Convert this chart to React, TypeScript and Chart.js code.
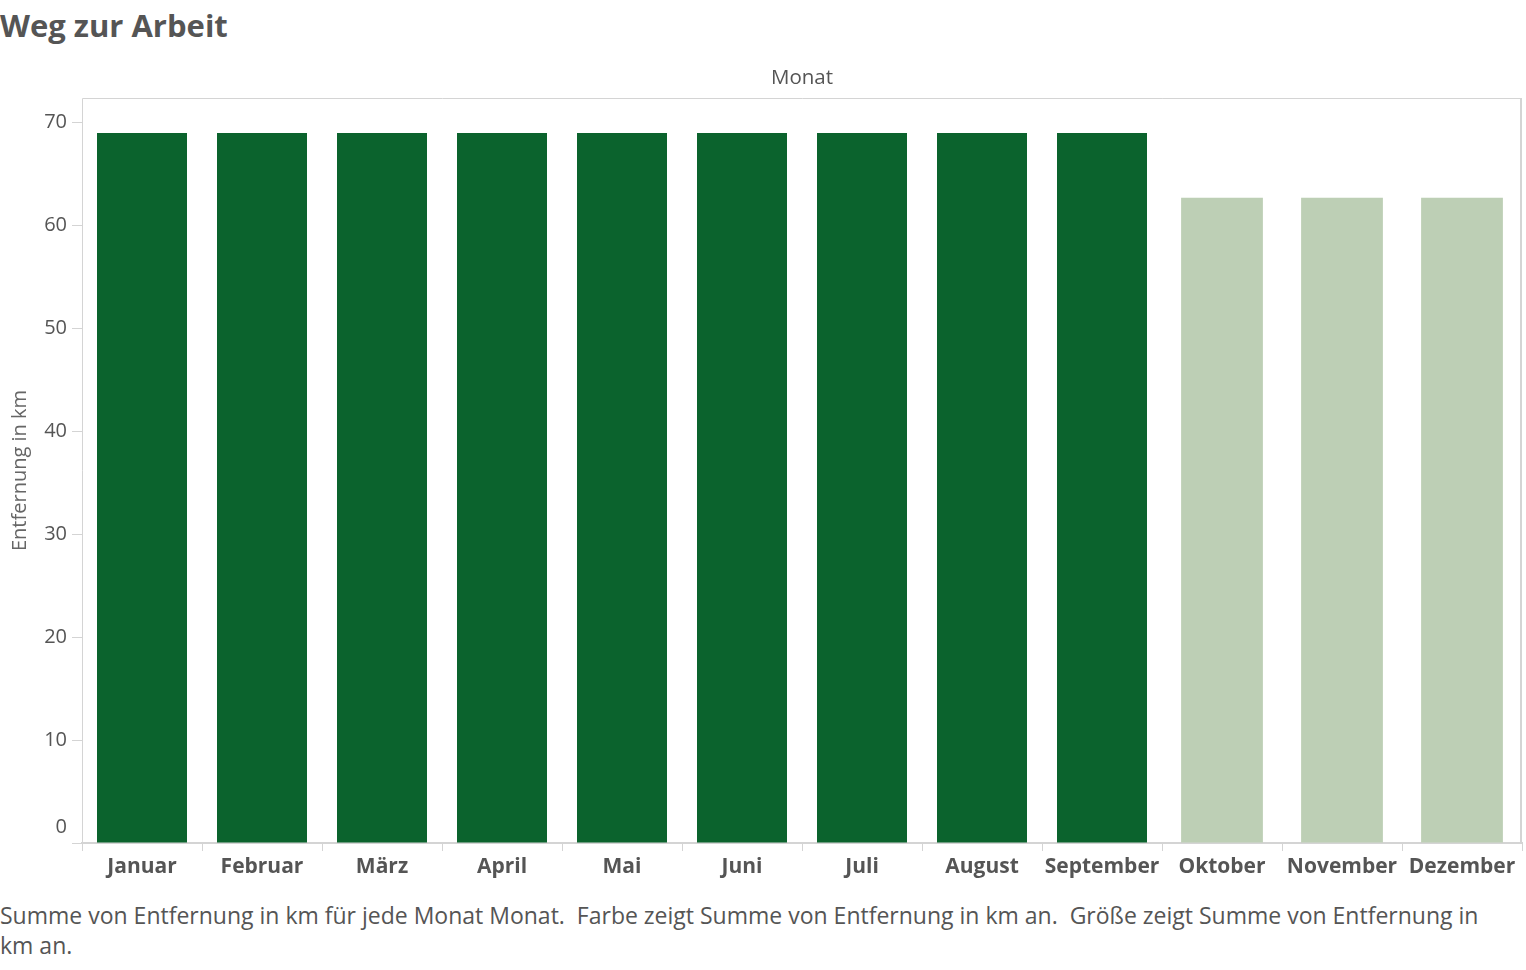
import React, { useEffect, useRef } from "react";
import { Chart, registerables } from "chart.js";

Chart.register(...registerables);

// months on the x axis
const months = [
  "Januar",
  "Februar",
  "März",
  "April",
  "Mai",
  "Juni",
  "Juli",
  "August",
  "September",
  "Oktober",
  "November",
  "Dezember",
];

// Summe von Entfernung in km per month
const distanceKm = [69, 69, 69, 69, 69, 69, 69, 69, 69, 62.7, 62.7, 62.7];

const yTicks = [0, 10, 20, 30, 40, 50, 60, 70];
const yMax = 72.4;

const darkGreen = "#0b632d";
const lightGreen = "#bdcfb5";
const textColor = "#555555";
const lineColor = "#d4d4d4";
const fontFamily = "'Open Sans', 'Noto Sans', sans-serif";

// bar width also encodes the value (Größe)
const maxValue = Math.max(...distanceKm);
const fullBar = 0.75;
const highValues = distanceKm.map((v) => (v >= 65 ? v : null));
const lowValues = distanceKm.map((v) => (v < 65 ? v : null));
const lowValue = Math.min(...distanceKm);

// draws the plot frame and the lifted "0" label like the original
const framePlugin = {
  id: "frame",
  beforeDatasetsDraw(chart: Chart) {
    const { ctx, chartArea } = chart;
    ctx.save();
    ctx.strokeStyle = lineColor;
    ctx.lineWidth = 1;
    ctx.beginPath();
    ctx.moveTo(chartArea.left + 0.5, chartArea.bottom);
    ctx.lineTo(chartArea.left + 0.5, chartArea.top + 0.5);
    ctx.lineTo(chartArea.right, chartArea.top + 0.5);
    ctx.stroke();
    ctx.lineWidth = 2;
    ctx.beginPath();
    ctx.moveTo(chartArea.right - 1, chartArea.top);
    ctx.lineTo(chartArea.right - 1, chartArea.bottom);
    ctx.stroke();
    ctx.restore();
  },
  afterDraw(chart: Chart) {
    const { ctx } = chart;
    const y = chart.scales.y;
    ctx.save();
    ctx.font = `20px ${fontFamily}`;
    ctx.fillStyle = textColor;
    ctx.textAlign = "right";
    ctx.textBaseline = "middle";
    ctx.fillText("0", y.right - 15, y.getPixelForValue(0) - 16);
    ctx.restore();
  },
};

const BarChart = () => {
  const canvasRef = useRef<HTMLCanvasElement | null>(null);

  useEffect(() => {
    if (!canvasRef.current) return;
    const chart = new Chart(canvasRef.current, {
      type: "bar",
      data: {
        labels: months,
        datasets: [
          {
            label: "Entfernung in km",
            data: highValues,
            backgroundColor: darkGreen,
            barPercentage: fullBar,
            categoryPercentage: 1,
            grouped: false,
          },
          {
            label: "Entfernung in km",
            data: lowValues,
            backgroundColor: lightGreen,
            barPercentage: (fullBar * lowValue) / maxValue,
            categoryPercentage: 1,
            grouped: false,
          },
        ],
      },
      options: {
        animation: false,
        responsive: true,
        maintainAspectRatio: false,
        layout: { padding: { left: 0, right: 4, top: 0, bottom: 0 } },
        plugins: {
          legend: { display: false },
          tooltip: { enabled: false },
        },
        scales: {
          x: {
            position: "bottom",
            grid: {
              offset: true,
              drawOnChartArea: false,
              color: lineColor,
              tickLength: 8,
            },
            border: { color: lineColor, width: 2 },
            ticks: {
              color: textColor,
              padding: 3,
              maxRotation: 0,
              autoSkip: false,
              font: { family: fontFamily, size: 21, weight: "bold" },
            },
            afterFit: (scale: any) => {
              scale.height = 57;
            },
          },
          x2: {
            position: "top",
            type: "category",
            labels: months,
            grid: { display: false },
            border: { display: false },
            ticks: { display: false },
            title: {
              display: true,
              text: "Monat",
              color: textColor,
              padding: { top: 16, bottom: 0 },
              font: { family: fontFamily, size: 20.5 },
            },
            afterFit: (scale: any) => {
              scale.height = 48;
            },
          },
          y: {
            min: 0,
            max: yMax,
            afterBuildTicks: (scale: any) => {
              scale.ticks = yTicks.map((v) => ({ value: v }));
            },
            grid: {
              drawOnChartArea: false,
              color: lineColor,
              tickLength: 10,
            },
            border: { display: false },
            ticks: {
              color: textColor,
              padding: 5,
              font: { family: fontFamily, size: 20 },
              callback: (v: any) => (v === 0 ? "" : String(v)),
            },
            title: {
              display: true,
              text: "Entfernung in km",
              color: "#666666",
              padding: { top: 8, bottom: 0 },
              font: { family: fontFamily, size: 20 },
            },
            afterFit: (scale: any) => {
              scale.width = 82;
            },
          },
        },
      },
      plugins: [framePlugin],
    });
    return () => chart.destroy();
  }, []);

  return (
    <div style={{ position: "relative", width: 1526, height: 850 }}>
      <canvas ref={canvasRef}></canvas>
    </div>
  );
};

const App = () => {
  useEffect(() => {
    document.body.style.margin = "0";
  }, []);

  return (
    <div style={{ width: 1526, fontFamily, color: textColor }}>
      <div
        style={{
          height: 50,
          fontSize: 31,
          fontWeight: "bold",
          lineHeight: "50px",
        }}
      >
        Weg zur Arbeit
      </div>
      <BarChart />
      <div style={{ fontSize: 23, lineHeight: "30px", whiteSpace: "pre-wrap" }}>
        {"Summe von Entfernung in km für jede Monat Monat.  Farbe zeigt Summe von Entfernung in km an.  Größe zeigt Summe von Entfernung in"}
        <br />
        {"km an."}
      </div>
    </div>
  );
};

export default App;
